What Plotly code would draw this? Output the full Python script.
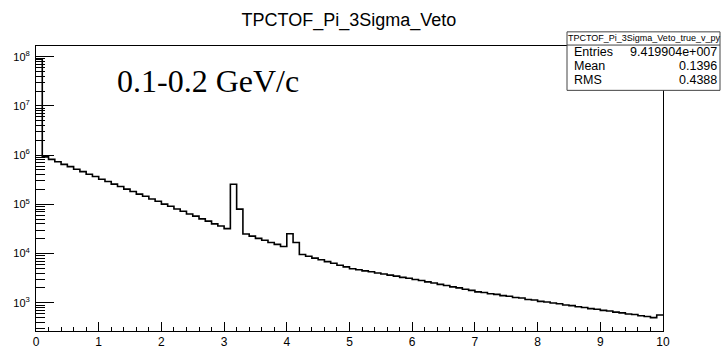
import numpy as np
import plotly.graph_objects as go

# Histogram: TPCTOF_Pi_3Sigma_Veto, 100 bins on [0, 10]
bin_edges = np.round(np.arange(101) * 0.1, 1)
counts = [
    89000000,
    922000, 820000, 733000, 650000, 583000, 515000, 462000, 408000, 367000, 324000,
    291000, 257000, 231000, 204000, 183000, 161000, 146000, 128000, 116000, 101000,
    91500, 80500, 72500, 63800, 57600, 50600, 45700, 40200, 36200, 32100,
    256000, 79800, 24900, 22600, 20400, 18700, 16800, 15400, 13900,
    25300, 16800, 9570, 8820, 8090, 7480, 6850, 6340, 5800, 5370, 4920,
    4700, 4460, 4260, 4030, 3850, 3650, 3490, 3290, 3160, 2980,
    2830, 2660, 2530, 2370, 2250, 2110, 2010, 1880, 1790, 1670,
    1620, 1530, 1480, 1400, 1360, 1280, 1250, 1170, 1140, 1070,
    1040, 990, 955, 905, 878, 830, 805, 760, 740, 700,
    680, 645, 625, 592, 578, 545, 528, 500, 565,
]

title_text = "TPCTOF_Pi_3Sigma_Veto"
stats_name = "TPCTOF_Pi_3Sigma_Veto_true_v_py"
stats_rows = [("Entries", "9.419904e+007"), ("Mean", "0.1396"), ("RMS", "0.4388")]
range_label = "0.1-0.2 GeV/c"

x_ticks = list(range(0, 11))
y_decades = [3, 4, 5, 6, 7, 8]

W, H = 721, 361
ML, MR, MT, MB = 36, 58, 46, 13
PW, PH = W - ML - MR, H - MT - MB


def px(x):
    return (x - ML) / PW


def py(y):
    return (H - MB - y) / PH


fig = go.Figure()
fig.add_trace(go.Scatter(
    x=bin_edges,
    y=counts + [counts[-1]],
    mode="lines",
    line=dict(shape="hv", color="black", width=1.6),
    hoverinfo="skip",
    showlegend=False,
))

minor_vals = [m * 10 ** d for d in range(2, 9) for m in range(2, 10)]

fig.update_layout(
    width=W, height=H,
    margin=dict(l=ML, r=MR, t=MT, b=MB),
    paper_bgcolor="white", plot_bgcolor="white",
    font=dict(family="Liberation Sans, Arial, sans-serif", color="black"),
    title=dict(text=title_text, x=349 / W, xanchor="center", xref="container",
               y=1 - 20 / H, yanchor="middle", yref="container",
               font=dict(size=18, color="black")),
    xaxis=dict(
        range=[0, 10], showgrid=False, zeroline=False,
        showline=True, linecolor="black", linewidth=1, mirror=True,
        tickvals=x_ticks, ticktext=[str(v) for v in x_ticks],
        ticks="inside", ticklen=9, tickcolor="black", tickwidth=1,
        tickfont=dict(size=12), ticklabelstandoff=0,
        minor=dict(ticks="inside", ticklen=4, dtick=0.2, tickcolor="black", tickwidth=1),
    ),
    yaxis=dict(
        type="log", range=[2.427, 8.217], showgrid=False, zeroline=False,
        showline=True, linecolor="black", linewidth=1, mirror=True,
        tickvals=[10 ** d for d in y_decades],
        ticktext=["10<sup>%d</sup>" % d for d in y_decades],
        ticks="inside", ticklen=18, tickcolor="black", tickwidth=1,
        tickfont=dict(size=11), ticklabelstandoff=3,
        minor=dict(ticks="inside", ticklen=9, tickvals=minor_vals,
                   tickcolor="black", tickwidth=1),
    ),
)

# Statistics box
bx0, bx1, by0, by1, bhead = 567, 720, 93, 31, 45
fig.add_shape(type="rect", xref="paper", yref="paper",
              x0=px(bx0), x1=px(bx1), y0=py(by0), y1=py(by1),
              line=dict(color="#444", width=1), fillcolor="white", layer="above")
fig.add_shape(type="line", xref="paper", yref="paper",
              x0=px(bx0), x1=px(bx1), y0=py(bhead), y1=py(bhead),
              line=dict(color="#444", width=1), layer="above")
fig.add_annotation(text=stats_name, xref="paper", yref="paper",
                   x=px((bx0 + bx1) / 2), y=py(38), xanchor="center", yanchor="middle",
                   showarrow=False, font=dict(size=9), borderpad=0)
for i, (name, val) in enumerate(stats_rows):
    yy = py(52.5 + 14.5 * i)
    fig.add_annotation(text=name, xref="paper", yref="paper", x=px(573), y=yy,
                       xanchor="left", yanchor="middle", showarrow=False,
                       font=dict(size=12.5), borderpad=0)
    fig.add_annotation(text=val, xref="paper", yref="paper", x=px(718), y=yy,
                       xanchor="right", yanchor="middle", showarrow=False,
                       font=dict(size=12.5), borderpad=0)

# Momentum-range label
fig.add_annotation(text=range_label, xref="paper", yref="paper",
                   x=px(115), y=py(83), xanchor="left", yanchor="middle",
                   showarrow=False,
                   font=dict(family="Liberation Serif, Times New Roman, serif", size=32))

fig.write_html("out.html")
